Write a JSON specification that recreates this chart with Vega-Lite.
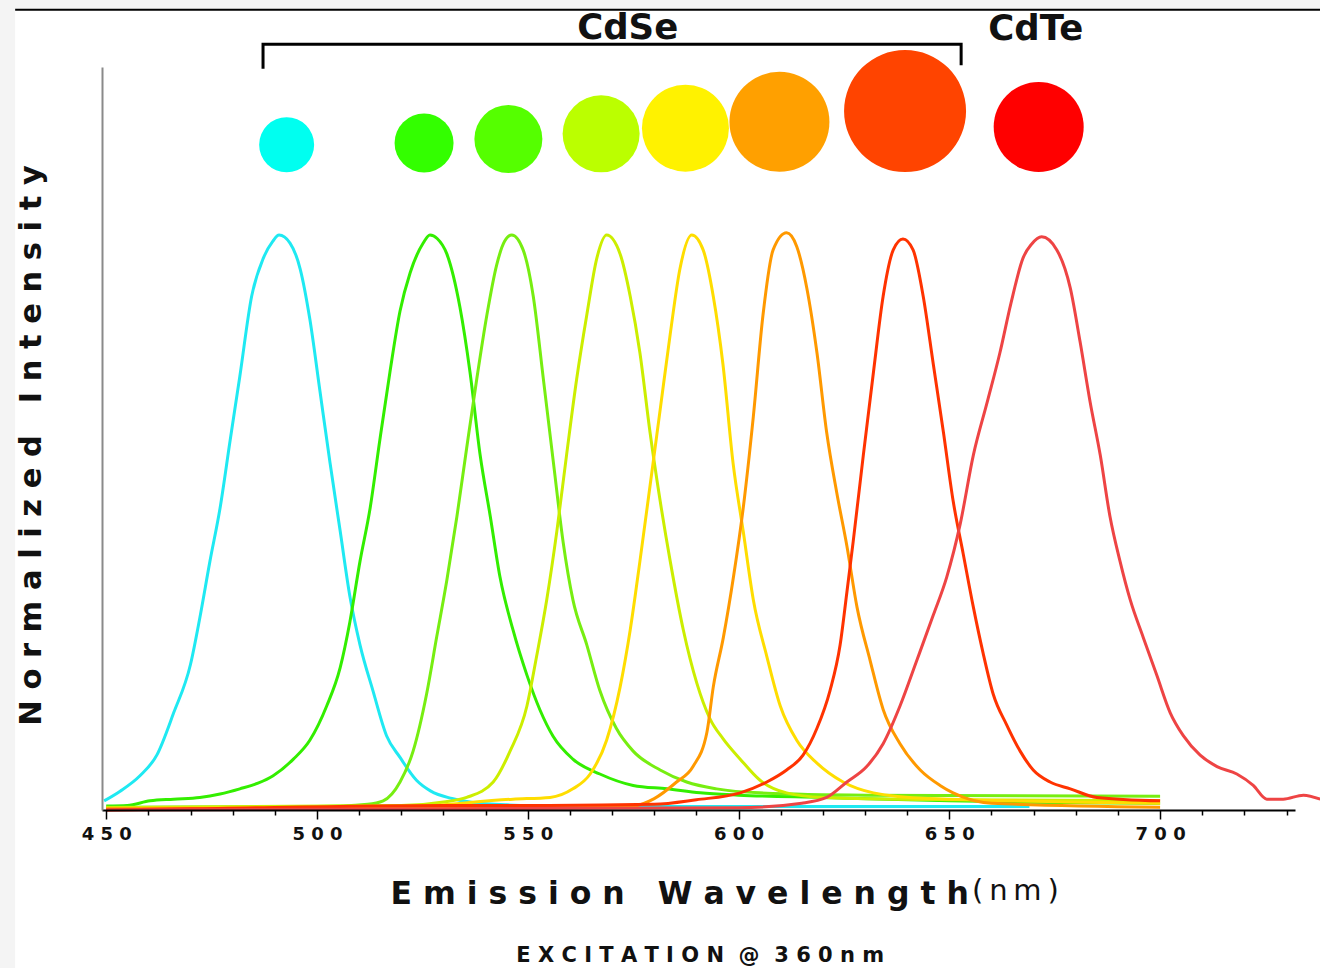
{
  "$schema": "https://vega.github.io/schema/vega-lite/v6.json",
  "width": 1193,
  "height": 743,
  "autosize": {"type": "none"},
  "padding": {"left": 102, "top": 67, "right": 25, "bottom": 158},
  "background": "#f4f4f4",
  "config": {"view": {"stroke": null}, "font": "DejaVu Sans"},
  "datasets": {
    "spectra": [
      {"series": "490", "nm": 449.5, "val": 0.016}, {"series": "490", "nm": 453.3, "val": 0.033}, {"series": "490", "nm": 458, "val": 0.06},
      {"series": "490", "nm": 462, "val": 0.096}, {"series": "490", "nm": 466, "val": 0.17}, {"series": "490", "nm": 470, "val": 0.255},
      {"series": "490", "nm": 472.2, "val": 0.336}, {"series": "490", "nm": 474.6, "val": 0.435}, {"series": "490", "nm": 477, "val": 0.528},
      {"series": "490", "nm": 479.4, "val": 0.647}, {"series": "490", "nm": 481.7, "val": 0.759}, {"series": "490", "nm": 484.5, "val": 0.899},
      {"series": "490", "nm": 487.3, "val": 0.966}, {"series": "490", "nm": 489.5, "val": 0.995}, {"series": "490", "nm": 491, "val": 1.006},
      {"series": "490", "nm": 493.6, "val": 0.992}, {"series": "490", "nm": 496, "val": 0.947}, {"series": "490", "nm": 498.3, "val": 0.859},
      {"series": "490", "nm": 500.7, "val": 0.733}, {"series": "490", "nm": 503.1, "val": 0.607}, {"series": "490", "nm": 505.5, "val": 0.488},
      {"series": "490", "nm": 507.8, "val": 0.374}, {"series": "490", "nm": 510.2, "val": 0.289}, {"series": "490", "nm": 513.3, "val": 0.208},
      {"series": "490", "nm": 516.5, "val": 0.13}, {"series": "490", "nm": 519.7, "val": 0.092}, {"series": "490", "nm": 523.6, "val": 0.052},
      {"series": "490", "nm": 527, "val": 0.033}, {"series": "490", "nm": 532, "val": 0.02}, {"series": "490", "nm": 537, "val": 0.013},
      {"series": "490", "nm": 545, "val": 0.009}, {"series": "490", "nm": 560, "val": 0.007}, {"series": "490", "nm": 600, "val": 0.006},
      {"series": "490", "nm": 669, "val": 0.006},

      {"series": "527", "nm": 450, "val": 0.007}, {"series": "527", "nm": 455, "val": 0.008}, {"series": "527", "nm": 460.4, "val": 0.016},
      {"series": "527", "nm": 466, "val": 0.019}, {"series": "527", "nm": 472.2, "val": 0.022}, {"series": "527", "nm": 477, "val": 0.028},
      {"series": "527", "nm": 481.7, "val": 0.037}, {"series": "527", "nm": 486, "val": 0.047}, {"series": "527", "nm": 489.6, "val": 0.06},
      {"series": "527", "nm": 494.4, "val": 0.089}, {"series": "527", "nm": 498.3, "val": 0.122}, {"series": "527", "nm": 502.3, "val": 0.182},
      {"series": "527", "nm": 505.5, "val": 0.249}, {"series": "527", "nm": 507.8, "val": 0.329}, {"series": "527", "nm": 510.2, "val": 0.435},
      {"series": "527", "nm": 512.6, "val": 0.528}, {"series": "527", "nm": 514.9, "val": 0.647}, {"series": "527", "nm": 517.3, "val": 0.766},
      {"series": "527", "nm": 519.7, "val": 0.873}, {"series": "527", "nm": 522.1, "val": 0.94}, {"series": "527", "nm": 525.2, "val": 0.992},
      {"series": "527", "nm": 526.8, "val": 1.006}, {"series": "527", "nm": 528.5, "val": 1.0}, {"series": "527", "nm": 530.8, "val": 0.973},
      {"series": "527", "nm": 533.9, "val": 0.88}, {"series": "527", "nm": 536.3, "val": 0.766}, {"series": "527", "nm": 538.7, "val": 0.621},
      {"series": "527", "nm": 541.1, "val": 0.514}, {"series": "527", "nm": 543.4, "val": 0.408}, {"series": "527", "nm": 546.5, "val": 0.315},
      {"series": "527", "nm": 549.8, "val": 0.236}, {"series": "527", "nm": 552.9, "val": 0.175}, {"series": "527", "nm": 556, "val": 0.129},
      {"series": "527", "nm": 560.7, "val": 0.089}, {"series": "527", "nm": 567.1, "val": 0.063}, {"series": "527", "nm": 575, "val": 0.043},
      {"series": "527", "nm": 583, "val": 0.037}, {"series": "527", "nm": 590.9, "val": 0.03}, {"series": "527", "nm": 600, "val": 0.026},
      {"series": "527", "nm": 620, "val": 0.022}, {"series": "527", "nm": 650, "val": 0.016}, {"series": "527", "nm": 700, "val": 0.012},

      {"series": "546", "nm": 450, "val": 0.005}, {"series": "546", "nm": 500, "val": 0.006}, {"series": "546", "nm": 512, "val": 0.01},
      {"series": "546", "nm": 515.7, "val": 0.016}, {"series": "546", "nm": 519.7, "val": 0.049}, {"series": "546", "nm": 522.8, "val": 0.103},
      {"series": "546", "nm": 526, "val": 0.203}, {"series": "546", "nm": 528.4, "val": 0.303}, {"series": "546", "nm": 530.8, "val": 0.402},
      {"series": "546", "nm": 533.2, "val": 0.514}, {"series": "546", "nm": 535.5, "val": 0.633}, {"series": "546", "nm": 537.9, "val": 0.754},
      {"series": "546", "nm": 540.3, "val": 0.866}, {"series": "546", "nm": 542.6, "val": 0.953}, {"series": "546", "nm": 544.5, "val": 0.995},
      {"series": "546", "nm": 546.2, "val": 1.006}, {"series": "546", "nm": 548.9, "val": 0.98}, {"series": "546", "nm": 551.3, "val": 0.899},
      {"series": "546", "nm": 553.7, "val": 0.754}, {"series": "546", "nm": 556.1, "val": 0.607}, {"series": "546", "nm": 558.4, "val": 0.468},
      {"series": "546", "nm": 560.7, "val": 0.368}, {"series": "546", "nm": 564, "val": 0.289}, {"series": "546", "nm": 567.1, "val": 0.209},
      {"series": "546", "nm": 571, "val": 0.143}, {"series": "546", "nm": 575, "val": 0.103}, {"series": "546", "nm": 581.4, "val": 0.07},
      {"series": "546", "nm": 587.7, "val": 0.049}, {"series": "546", "nm": 594.8, "val": 0.037}, {"series": "546", "nm": 605, "val": 0.03},
      {"series": "546", "nm": 630, "val": 0.026}, {"series": "546", "nm": 700, "val": 0.024},

      {"series": "568", "nm": 450, "val": 0.004}, {"series": "568", "nm": 520, "val": 0.008}, {"series": "568", "nm": 530, "val": 0.014},
      {"series": "568", "nm": 535.5, "val": 0.022}, {"series": "568", "nm": 541.8, "val": 0.049}, {"series": "568", "nm": 545.8, "val": 0.103},
      {"series": "568", "nm": 549.8, "val": 0.182}, {"series": "568", "nm": 552.1, "val": 0.269}, {"series": "568", "nm": 554.5, "val": 0.368},
      {"series": "568", "nm": 556.9, "val": 0.488}, {"series": "568", "nm": 559.2, "val": 0.621}, {"series": "568", "nm": 561.6, "val": 0.754},
      {"series": "568", "nm": 564, "val": 0.866}, {"series": "568", "nm": 566.4, "val": 0.966}, {"series": "568", "nm": 568.7, "val": 1.006},
      {"series": "568", "nm": 571.9, "val": 0.973}, {"series": "568", "nm": 574.3, "val": 0.899}, {"series": "568", "nm": 576.6, "val": 0.8},
      {"series": "568", "nm": 579, "val": 0.661}, {"series": "568", "nm": 581.4, "val": 0.541}, {"series": "568", "nm": 583.8, "val": 0.435},
      {"series": "568", "nm": 586.9, "val": 0.315}, {"series": "568", "nm": 590.1, "val": 0.222}, {"series": "568", "nm": 593.2, "val": 0.16},
      {"series": "568", "nm": 596.3, "val": 0.125}, {"series": "568", "nm": 600.4, "val": 0.089}, {"series": "568", "nm": 605.1, "val": 0.052},
      {"series": "568", "nm": 611.4, "val": 0.03}, {"series": "568", "nm": 620, "val": 0.022}, {"series": "568", "nm": 650, "val": 0.018},
      {"series": "568", "nm": 700, "val": 0.016},

      {"series": "589", "nm": 450, "val": 0.003}, {"series": "589", "nm": 520, "val": 0.005}, {"series": "589", "nm": 546.5, "val": 0.019},
      {"series": "589", "nm": 555.3, "val": 0.022}, {"series": "589", "nm": 560.7, "val": 0.037}, {"series": "589", "nm": 564.8, "val": 0.063},
      {"series": "589", "nm": 568.7, "val": 0.122}, {"series": "589", "nm": 571.9, "val": 0.215}, {"series": "589", "nm": 574.3, "val": 0.315},
      {"series": "589", "nm": 576.6, "val": 0.435}, {"series": "589", "nm": 579, "val": 0.567}, {"series": "589", "nm": 581.4, "val": 0.7},
      {"series": "589", "nm": 583.8, "val": 0.833}, {"series": "589", "nm": 586.1, "val": 0.947}, {"series": "589", "nm": 588.9, "val": 1.006},
      {"series": "589", "nm": 591.6, "val": 0.98}, {"series": "589", "nm": 594, "val": 0.899}, {"series": "589", "nm": 596.3, "val": 0.78},
      {"series": "589", "nm": 598.7, "val": 0.607}, {"series": "589", "nm": 601.1, "val": 0.488}, {"series": "589", "nm": 603.5, "val": 0.368},
      {"series": "589", "nm": 606.7, "val": 0.269}, {"series": "589", "nm": 609.9, "val": 0.182}, {"series": "589", "nm": 613.8, "val": 0.122},
      {"series": "589", "nm": 618.6, "val": 0.082}, {"series": "589", "nm": 624.8, "val": 0.049}, {"series": "589", "nm": 632, "val": 0.03},
      {"series": "589", "nm": 645, "val": 0.02}, {"series": "589", "nm": 700, "val": 0.012},

      {"series": "611", "nm": 450, "val": 0.002}, {"series": "611", "nm": 560, "val": 0.004}, {"series": "611", "nm": 575, "val": 0.007},
      {"series": "611", "nm": 580, "val": 0.02}, {"series": "611", "nm": 585.3, "val": 0.049}, {"series": "611", "nm": 589.2, "val": 0.076},
      {"series": "611", "nm": 592.5, "val": 0.136}, {"series": "611", "nm": 594, "val": 0.215}, {"series": "611", "nm": 596.4, "val": 0.302},
      {"series": "611", "nm": 598.8, "val": 0.408}, {"series": "611", "nm": 601.1, "val": 0.528}, {"series": "611", "nm": 603.5, "val": 0.688},
      {"series": "611", "nm": 605.8, "val": 0.866}, {"series": "611", "nm": 608.2, "val": 0.98}, {"series": "611", "nm": 611.4, "val": 1.01},
      {"series": "611", "nm": 613.8, "val": 0.986}, {"series": "611", "nm": 616.2, "val": 0.913}, {"series": "611", "nm": 618.6, "val": 0.8},
      {"series": "611", "nm": 620.9, "val": 0.661}, {"series": "611", "nm": 623.3, "val": 0.555}, {"series": "611", "nm": 625.7, "val": 0.462},
      {"series": "611", "nm": 628.1, "val": 0.355}, {"series": "611", "nm": 631.2, "val": 0.262}, {"series": "611", "nm": 634.3, "val": 0.176},
      {"series": "611", "nm": 638.3, "val": 0.116}, {"series": "611", "nm": 643.1, "val": 0.07}, {"series": "611", "nm": 647.8, "val": 0.043},
      {"series": "611", "nm": 650.9, "val": 0.03}, {"series": "611", "nm": 660, "val": 0.012}, {"series": "611", "nm": 700, "val": 0.005},

      {"series": "639", "nm": 450, "val": 0.0}, {"series": "639", "nm": 470, "val": 0.002}, {"series": "639", "nm": 530, "val": 0.008},
      {"series": "639", "nm": 555, "val": 0.008}, {"series": "639", "nm": 580, "val": 0.01}, {"series": "639", "nm": 590, "val": 0.018},
      {"series": "639", "nm": 600.4, "val": 0.03}, {"series": "639", "nm": 606.7, "val": 0.049}, {"series": "639", "nm": 611.4, "val": 0.07},
      {"series": "639", "nm": 615.3, "val": 0.096}, {"series": "639", "nm": 618.6, "val": 0.143}, {"series": "639", "nm": 621.7, "val": 0.209},
      {"series": "639", "nm": 624.1, "val": 0.289}, {"series": "639", "nm": 625.7, "val": 0.381}, {"series": "639", "nm": 627.2, "val": 0.47},
      {"series": "639", "nm": 629.6, "val": 0.621}, {"series": "639", "nm": 632, "val": 0.766}, {"series": "639", "nm": 634.3, "val": 0.899},
      {"series": "639", "nm": 636.7, "val": 0.98}, {"series": "639", "nm": 639, "val": 0.999}, {"series": "639", "nm": 641.4, "val": 0.98},
      {"series": "639", "nm": 643.8, "val": 0.899}, {"series": "639", "nm": 646.2, "val": 0.78}, {"series": "639", "nm": 648.6, "val": 0.661},
      {"series": "639", "nm": 650.9, "val": 0.541}, {"series": "639", "nm": 653.3, "val": 0.448}, {"series": "639", "nm": 655.7, "val": 0.355},
      {"series": "639", "nm": 658, "val": 0.275}, {"series": "639", "nm": 660.4, "val": 0.203}, {"series": "639", "nm": 663.6, "val": 0.149},
      {"series": "639", "nm": 666.8, "val": 0.103}, {"series": "639", "nm": 669.9, "val": 0.07}, {"series": "639", "nm": 673.9, "val": 0.049},
      {"series": "639", "nm": 678.7, "val": 0.037}, {"series": "639", "nm": 685, "val": 0.022}, {"series": "639", "nm": 700, "val": 0.016},

      {"series": "672", "nm": 450, "val": 0.0}, {"series": "672", "nm": 600, "val": 0.004}, {"series": "672", "nm": 615, "val": 0.012},
      {"series": "672", "nm": 620.9, "val": 0.022}, {"series": "672", "nm": 625.7, "val": 0.049}, {"series": "672", "nm": 630.4, "val": 0.076},
      {"series": "672", "nm": 634.3, "val": 0.116}, {"series": "672", "nm": 638.3, "val": 0.182}, {"series": "672", "nm": 642.3, "val": 0.262},
      {"series": "672", "nm": 646.2, "val": 0.341}, {"series": "672", "nm": 649.4, "val": 0.408}, {"series": "672", "nm": 652.6, "val": 0.501},
      {"series": "672", "nm": 655.7, "val": 0.621}, {"series": "672", "nm": 659, "val": 0.714}, {"series": "672", "nm": 662, "val": 0.8},
      {"series": "672", "nm": 664.6, "val": 0.886}, {"series": "672", "nm": 667.5, "val": 0.966}, {"series": "672", "nm": 669.5, "val": 0.99},
      {"series": "672", "nm": 671.9, "val": 1.003}, {"series": "672", "nm": 675.5, "val": 0.98}, {"series": "672", "nm": 678.7, "val": 0.913},
      {"series": "672", "nm": 681, "val": 0.82}, {"series": "672", "nm": 683.4, "val": 0.714}, {"series": "672", "nm": 685.8, "val": 0.621},
      {"series": "672", "nm": 688.1, "val": 0.514}, {"series": "672", "nm": 690.5, "val": 0.435}, {"series": "672", "nm": 692.9, "val": 0.368},
      {"series": "672", "nm": 696, "val": 0.302}, {"series": "672", "nm": 699.2, "val": 0.236}, {"series": "672", "nm": 702.4, "val": 0.17},
      {"series": "672", "nm": 705.5, "val": 0.13}, {"series": "672", "nm": 709.5, "val": 0.096}, {"series": "672", "nm": 713.5, "val": 0.076},
      {"series": "672", "nm": 718.2, "val": 0.063}, {"series": "672", "nm": 722.1, "val": 0.043}, {"series": "672", "nm": 725.3, "val": 0.019},
      {"series": "672", "nm": 729.2, "val": 0.019}, {"series": "672", "nm": 734, "val": 0.026}, {"series": "672", "nm": 738, "val": 0.019}
    ],
    "dots": [
      {"dot": "490", "nm": 492.8, "val": 1.164, "relSize": 5.5},
      {"dot": "527", "nm": 525.4, "val": 1.167, "relSize": 5.9},
      {"dot": "546", "nm": 545.4, "val": 1.174, "relSize": 6.8},
      {"dot": "568", "nm": 567.4, "val": 1.183, "relSize": 7.7},
      {"dot": "589", "nm": 587.4, "val": 1.193, "relSize": 8.7},
      {"dot": "611", "nm": 609.7, "val": 1.204, "relSize": 10.0},
      {"dot": "639", "nm": 639.5, "val": 1.223, "relSize": 12.2},
      {"dot": "672", "nm": 671.2, "val": 1.195, "relSize": 9.0}
    ],
    "bracket": [
      {"step": 1, "nm": 487.2, "val": 1.297},
      {"step": 2, "nm": 487.2, "val": 1.34},
      {"step": 3, "nm": 652.8, "val": 1.34},
      {"step": 4, "nm": 652.8, "val": 1.303}
    ],
    "one": [{}]
  },
  "layer": [
    {
      "data": {"name": "one"},
      "mark": {"type": "rect", "color": "white"},
      "encoding": {
        "x": {"datum": 428.4, "type": "quantitative"},
        "x2": {"datum": 745},
        "y": {"datum": -0.35, "type": "quantitative"},
        "y2": {"datum": 1.4}
      }
    },
    {
      "data": {"name": "one"},
      "mark": {"type": "rule", "color": "black", "strokeWidth": 2},
      "encoding": {
        "x": {"datum": 428.4, "type": "quantitative"},
        "x2": {"datum": 745},
        "y": {"datum": 1.4, "type": "quantitative"}
      }
    },
    {
      "data": {"name": "spectra"},
      "mark": {"type": "line", "strokeWidth": 3, "interpolate": "monotone"},
      "encoding": {
        "x": {
          "field": "nm", "type": "quantitative",
          "scale": {"domain": [449, 732], "nice": false, "zero": false},
          "axis": {
            "title": "E\u00a0m\u00a0i\u00a0s\u00a0s\u00a0i\u00a0o\u00a0n\u00a0\u00a0\u00a0W\u00a0a\u00a0v\u00a0e\u00a0l\u00a0e\u00a0n\u00a0g\u00a0t\u00a0h",
            "values": [450, 460, 470, 480, 490, 500, 510, 520, 530, 540, 550, 560, 570, 580, 590, 600, 610, 620, 630, 640, 650, 660, 670, 680, 690, 700, 710, 720, 730],
            "labelExpr": "datum.value % 50 === 0 ? substring(datum.label,0,1) + '\u00a0' + substring(datum.label,1,2) + '\u00a0' + substring(datum.label,2,3) : ''",
            "labelFont": "DejaVu Sans", "labelFontWeight": "bold", "labelFontSize": 18, "labelColor": "#111111",
            "labelPadding": 6, "labelOverlap": false, "labelFlush": false,
            "tickColor": "black", "tickWidth": 1.5,
            "tickSize": {"condition": {"test": "datum.value % 50 === 0", "value": 9}, "value": 5},
            "domainColor": "black", "domainWidth": 2, "grid": false,
            "titleFont": "DejaVu Sans", "titleFontWeight": "bold", "titleFontSize": 31.5, "titleColor": "#111111",
            "titleX": 288, "titleY": 93, "titleAlign": "left", "titleAnchor": "start", "titleBaseline": "alphabetic",
            "zindex": 1
          }
        },
        "y": {
          "field": "val", "type": "quantitative",
          "scale": {"domain": [0, 1.3], "nice": false, "zero": false},
          "axis": {
            "title": "N\u00a0o\u00a0r\u00a0m\u00a0a\u00a0l\u00a0i\u00a0z\u00a0e\u00a0d\u00a0\u00a0\u00a0I\u00a0n\u00a0t\u00a0e\u00a0n\u00a0s\u00a0i\u00a0t\u00a0y",
            "ticks": false, "labels": false, "grid": false,
            "domainColor": "#8a8a8a", "domainWidth": 2,
            "titleFont": "DejaVu Sans", "titleFontWeight": "bold", "titleFontSize": 30.5, "titleColor": "#111111",
            "titleAngle": -90, "titleX": -62, "titleY": 378, "titleAlign": "center", "titleBaseline": "alphabetic",
            "zindex": 1
          }
        },
        "color": {
          "field": "series", "type": "nominal", "legend": null,
          "scale": {
            "domain": ["490", "527", "546", "568", "589", "611", "639", "672"],
            "range": ["#1fe9f2", "#33ee00", "#77ee11", "#ccee00", "#ffdd00", "#ff9900", "#ff3300", "#ee4444"]
          }
        }
      }
    },
    {
      "data": {"name": "bracket"},
      "mark": {"type": "line", "color": "black", "strokeWidth": 3, "strokeJoin": "miter"},
      "encoding": {
        "x": {"field": "nm", "type": "quantitative"},
        "y": {"field": "val", "type": "quantitative"},
        "order": {"field": "step", "type": "quantitative"}
      }
    },
    {
      "data": {"name": "dots"},
      "mark": {"type": "point", "shape": "circle", "filled": true, "opacity": 1, "strokeWidth": 0},
      "encoding": {
        "x": {"field": "nm", "type": "quantitative"},
        "y": {"field": "val", "type": "quantitative"},
        "size": {"field": "relSize", "type": "quantitative", "legend": null, "scale": {"type": "pow", "exponent": 2, "domain": [0, 12.2], "range": [0, 14884]}},
        "fill": {
          "field": "dot", "type": "nominal", "legend": null,
          "scale": {
            "domain": ["490", "527", "546", "568", "589", "611", "639", "672"],
            "range": ["#00fff0", "#33ff00", "#55ff00", "#bbff00", "#fff200", "#ffa000", "#ff4400", "#ff0000"]
          }
        }
      }
    },
    {
      "data": {"name": "one"},
      "mark": {"type": "text", "text": "CdSe", "font": "DejaVu Sans", "fontWeight": "bold", "fontSize": 35.5, "color": "#111111", "align": "center", "baseline": "alphabetic"},
      "encoding": {"x": {"datum": 573.7, "type": "quantitative"}, "y": {"datum": 1.349, "type": "quantitative"}}
    },
    {
      "data": {"name": "one"},
      "mark": {"type": "text", "text": "CdTe", "font": "DejaVu Sans", "fontWeight": "bold", "fontSize": 35.5, "color": "#111111", "align": "center", "baseline": "alphabetic"},
      "encoding": {"x": {"datum": 670.5, "type": "quantitative"}, "y": {"datum": 1.347, "type": "quantitative"}}
    },
    {
      "data": {"name": "one"},
      "mark": {"type": "text", "text": "(\u2009n\u2009m\u2009)", "font": "DejaVu Sans", "fontSize": 29, "color": "#111111", "align": "left", "baseline": "alphabetic"},
      "encoding": {"x": {"datum": 655.4, "type": "quantitative"}, "y": {"datum": -0.1575, "type": "quantitative"}}
    },
    {
      "data": {"name": "one"},
      "mark": {"type": "text", "text": "E\u00a0X\u00a0C\u00a0I\u00a0T\u00a0A\u00a0T\u00a0I\u00a0O\u00a0N\u00a0\u00a0@\u00a0\u00a03\u00a06\u00a00\u00a0n\u00a0m", "font": "DejaVu Sans", "fontWeight": "bold", "fontSize": 21, "color": "#111111", "align": "center", "baseline": "alphabetic"},
      "encoding": {"x": {"datum": 590.9, "type": "quantitative"}, "y": {"datum": -0.266, "type": "quantitative"}}
    }
  ]
}
